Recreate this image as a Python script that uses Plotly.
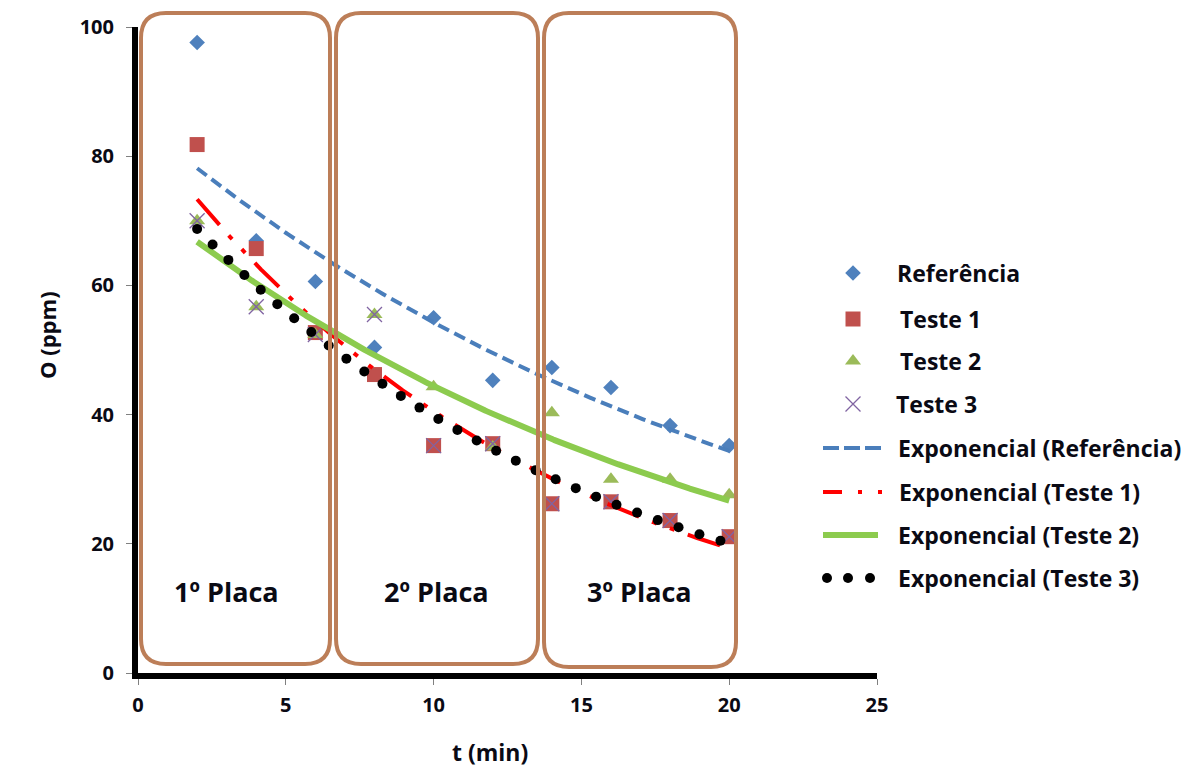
import numpy as np
import plotly.graph_objects as go

# ---------------- data ----------------
t = [2, 4, 6, 8, 10, 12, 14, 16, 18, 20]
referencia = [97.6, 66.9, 60.6, 50.4, 55.0, 45.3, 47.3, 44.2, 38.3, 35.2]
teste1 = [81.8, 65.7, 52.7, 46.2, 35.2, 35.5, 26.2, 26.5, 23.6, 21.1]
teste2 = [70.0, 56.7, 52.4, 55.5, 44.3, 35.0, 40.3, 30.0, 30.0, 27.6]
teste3 = [70.0, 56.7, 52.4, 55.5, 35.2, 35.5, 26.2, 26.5, 23.6, 21.1]

series_names = ["Referência", "Teste 1", "Teste 2", "Teste 3"]
trend_names = ["Exponencial (Referência)", "Exponencial (Teste 1)",
               "Exponencial (Teste 2)", "Exponencial (Teste 3)"]
placa_labels = ["1º Placa", "2º Placa", "3º Placa"]
x_ticks = [0, 5, 10, 15, 20, 25]
y_ticks = [0, 20, 40, 60, 80, 100]

# ---------------- style ----------------
W, H = 1198, 771
PLOT_L, PLOT_R, PLOT_T, PLOT_B = 138, 877, 27, 673
FONT = "Open Sans"
TXT = "#0a0a14"
C_REF, C_T1, C_T2, C_T3 = "#4F81BD", "#C0504D", "#9BBB59", "#8064A2"
L_REF, L_T1, L_T2, L_T3 = "#4A7EBB", "#FF0000", "#8CCB4E", "#000000"
BROWN = "#BC7E58"


def expfit(x, y):
    b, ln_a = np.polyfit(np.asarray(x, float), np.log(np.asarray(y, float)), 1)
    return np.exp(ln_a), b


fig = go.Figure()

# scatter series
fig.add_trace(go.Scatter(x=t, y=referencia, mode="markers", name=series_names[0],
                         marker=dict(symbol="diamond", size=12, color=C_REF), showlegend=False))
fig.add_trace(go.Scatter(x=t, y=teste1, mode="markers", name=series_names[1],
                         marker=dict(symbol="square", size=15, color=C_T1), showlegend=False))
fig.add_trace(go.Scatter(x=t, y=teste2, mode="markers", name=series_names[2],
                         marker=dict(symbol="triangle-up", size=14, color=C_T2), showlegend=False))
fig.add_trace(go.Scatter(x=t, y=teste3, mode="markers", name=series_names[3],
                         marker=dict(symbol="x-thin", size=15, color=C_T3,
                                     line=dict(color=C_T3, width=1.3)), showlegend=False))

# exponential trendlines (least squares on ln y, like a spreadsheet trendline)
xx = np.linspace(min(t), max(t), 400)
a0, b0 = expfit(t, referencia)
a1, b1 = expfit(t, teste1)
a2, b2 = expfit(t, teste2)
a3, b3 = expfit(t, teste3)

fig.add_trace(go.Scatter(x=xx, y=a0 * np.exp(b0 * xx), mode="lines", name=trend_names[0],
                         line=dict(color=L_REF, width=4, dash="12px,6px"), showlegend=False))
fig.add_trace(go.Scatter(x=xx, y=a1 * np.exp(b1 * xx), mode="lines", name=trend_names[1],
                         line=dict(color=L_T1, width=4, dash="34px,14px,5px,14px,5px,14px"),
                         showlegend=False))
fig.add_trace(go.Scatter(x=xx, y=a2 * np.exp(b2 * xx), mode="lines", name=trend_names[2],
                         line=dict(color=L_T2, width=6), showlegend=False))

# round-dot trendline for Teste 3: dots spaced evenly along the drawn curve
px_x = (PLOT_R - PLOT_L) / 25.0
px_y = (PLOT_B - PLOT_T) / 100.0
dense = np.linspace(min(t), max(t), 4000)
dy = a3 * np.exp(b3 * dense)
s = np.concatenate([[0], np.cumsum(np.hypot(np.diff(dense * px_x), np.diff(dy * px_y)))])
DOT_STEP = 22.0
xd = np.interp(np.arange(0, s[-1] + 1e-9, DOT_STEP), s, dense)
fig.add_trace(go.Scatter(x=xd, y=a3 * np.exp(b3 * xd), mode="markers", name=trend_names[3],
                         marker=dict(symbol="circle", size=10, color=L_T3), showlegend=False))

# ---------------- legend (drawn on a full-figure pixel axis) ----------------
leg_rows = [273, 319, 361, 404, 448, 492, 535, 578]
sym_x = 853
common = dict(xaxis="x2", yaxis="y2", showlegend=False, hoverinfo="skip")
fig.add_trace(go.Scatter(x=[sym_x], y=[leg_rows[0]], mode="markers",
                         marker=dict(symbol="diamond", size=12, color=C_REF), **common))
fig.add_trace(go.Scatter(x=[sym_x], y=[leg_rows[1]], mode="markers",
                         marker=dict(symbol="square", size=15, color=C_T1), **common))
fig.add_trace(go.Scatter(x=[sym_x], y=[leg_rows[2]], mode="markers",
                         marker=dict(symbol="triangle-up", size=14, color=C_T2), **common))
fig.add_trace(go.Scatter(x=[sym_x], y=[leg_rows[3]], mode="markers",
                         marker=dict(symbol="x-thin", size=15, color=C_T3,
                                     line=dict(color=C_T3, width=1.3)), **common))
fig.add_trace(go.Scatter(x=[823, 881], y=[leg_rows[4]] * 2, mode="lines",
                         line=dict(color=L_REF, width=4, dash="16px,5px"), **common))
fig.add_trace(go.Scatter(x=[823, 883], y=[leg_rows[5]] * 2, mode="lines",
                         line=dict(color=L_T1, width=4, dash="19px,16px,4px,16px,4px,100px"),
                         **common))
fig.add_trace(go.Scatter(x=[823, 878], y=[leg_rows[6]] * 2, mode="lines",
                         line=dict(color=L_T2, width=6), **common))
fig.add_trace(go.Scatter(x=[827, 848, 870], y=[leg_rows[7]] * 3, mode="markers",
                         marker=dict(symbol="circle", size=10, color=L_T3), **common))

leg_text_x = [895, 898, 898, 894, 896, 897, 896, 896]
annotations = []
for name, yv, xv in zip(series_names + trend_names, leg_rows, leg_text_x):
    annotations.append(dict(x=xv, y=yv, xref="x2", yref="y2", text=f"<b>{name}</b>",
                            showarrow=False, xanchor="left", yanchor="middle",
                            font=dict(family=FONT, size=23, color=TXT)))

# plate labels
for lab, xc in zip(placa_labels, [226, 436, 639]):
    annotations.append(dict(x=xc, y=591, xref="x2", yref="y2", text=f"<b>{lab}</b>",
                            showarrow=False, xanchor="center", yanchor="middle",
                            font=dict(family=FONT, size=27, color=TXT)))

# axis titles
annotations.append(dict(x=47, y=335, xref="x2", yref="y2", text="<b>O (ppm)</b>", textangle=-90,
                        showarrow=False, xanchor="center", yanchor="middle",
                        font=dict(family=FONT, size=22, color=TXT)))
annotations.append(dict(x=490, y=752, xref="x2", yref="y2", text="<b>t (min)</b>",
                        showarrow=False, xanchor="center", yanchor="middle",
                        font=dict(family=FONT, size=23, color=TXT)))


# rounded rectangles for the three plates
def rrect(x0, y0, x1, y1, r):
    return (f"M{x0 + r},{y0} L{x1 - r},{y0} Q{x1},{y0} {x1},{y0 + r} "
            f"L{x1},{y1 - r} Q{x1},{y1} {x1 - r},{y1} L{x0 + r},{y1} "
            f"Q{x0},{y1} {x0},{y1 - r} L{x0},{y0 + r} Q{x0},{y0} {x0 + r},{y0} Z")


shapes = []
for (x0, y0, x1, y1) in [(141, 13, 330, 664), (336, 13, 538, 664), (544, 13, 736, 667)]:
    shapes.append(dict(type="path", path=rrect(x0, y0, x1, y1, 25), xref="x2", yref="y2",
                       line=dict(color=BROWN, width=4), layer="above"))

fig.update_layout(
    template="none",
    width=W, height=H, autosize=False,
    margin=dict(l=0, r=0, t=0, b=0, pad=0),
    paper_bgcolor="white", plot_bgcolor="rgba(0,0,0,0)",
    showlegend=False,
    xaxis=dict(domain=[PLOT_L / W, PLOT_R / W], range=[0, 25], tickvals=x_ticks,
               showgrid=False, zeroline=False,
               showline=True, linecolor="black", linewidth=6, ticks="outside", ticklen=6,
               tickwidth=1, tickcolor="#808080", automargin=False, anchor="y",
               ticklabelstandoff=3,
               tickfont=dict(family=FONT, size=20, color=TXT, weight="bold")),
    yaxis=dict(domain=[1 - PLOT_B / H, 1 - PLOT_T / H], range=[0, 100], tickvals=y_ticks,
               showgrid=False, zeroline=False, showline=True, linecolor="black", linewidth=6,
               ticks="outside", ticklen=6, tickwidth=1, tickcolor="#808080", automargin=False,
               anchor="x", ticklabelstandoff=8,
               tickfont=dict(family=FONT, size=20, color=TXT, weight="bold")),
    xaxis2=dict(domain=[0, 1], range=[0, W], visible=False, anchor="y2", fixedrange=True),
    yaxis2=dict(domain=[0, 1], range=[H, 0], visible=False, anchor="x2", fixedrange=True),
    shapes=shapes,
    annotations=annotations,
)

fig.write_html("out.html")
